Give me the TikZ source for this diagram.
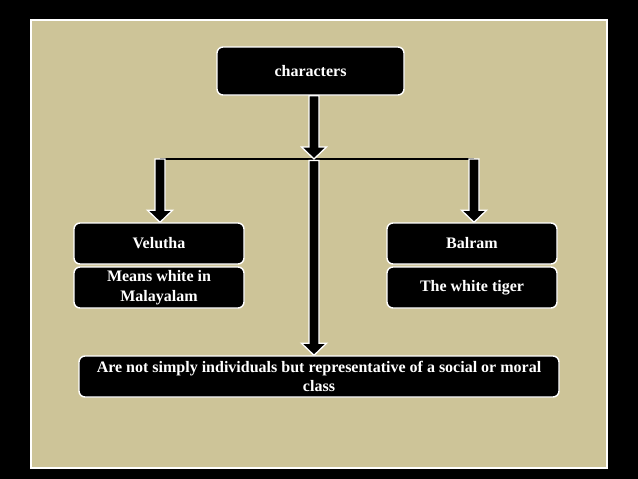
\documentclass[tikz,border=0pt]{standalone}
\usepackage{fontspec}
\setmainfont{Liberation Serif}
\usetikzlibrary{calc}
\definecolor{panel}{RGB}{205,196,152}
\tikzset{
  box/.style={draw=white, line width=1.4pt, fill=black, rounded corners=6pt, text=white,
    font=\bfseries\fontsize{16}{19.5}\selectfont, align=center, inner sep=0pt},
  arrowshape/.style={fill=black, draw=white, line width=1.3pt, line join=miter},
  hbar/.style={draw=black, line width=2.5pt}
}
\newcommand\blockarrow[2]{%
  \draw[arrowshape] let \p1=(#1), \p2=(#2) in
    (\x1-5pt,\y1) -- (\x1-5pt,\y2+12pt) -- (\x1-12.5pt,\y2+12pt) -- (\x1,\y2)
    -- (\x1+12.5pt,\y2+12pt) -- (\x1+5pt,\y2+12pt) -- (\x1+5pt,\y1) -- cycle;}
\begin{document}
\begin{tikzpicture}[x=1pt,y=-1pt]
\fill[black] (0,0) rectangle (638,479);
\useasboundingbox (0,0) rectangle (638,479);
\draw[white, line width=1.5pt, fill=panel] (31,20) rectangle (607,468);

\node[box, minimum width=187pt, minimum height=48pt] (chars) at (310.5,71) {characters};
\node[box, minimum width=170pt, minimum height=41pt] (vel) at (159,243.5) {Velutha};
\node[box, minimum width=170pt, minimum height=41pt] (means) at (159,287.5) {Means white in\\Malayalam};
\node[box, minimum width=170pt, minimum height=41pt] (bal) at (472,243.5) {Balram};
\node[box, minimum width=170pt, minimum height=41pt] (tiger) at (472,287.5) {The white tiger};
\node[box, minimum width=480pt, minimum height=41pt] (rep) at (319,376.5)
  {Are not simply individuals but representative of a social or moral\\class};

\coordinate (hl) at (314,159);
\coordinate (hL) at (160,159);
\coordinate (hR) at (474,159);
\coordinate (topstart) at (chars.south -| hl);

\draw[hbar] (hL) -- (hR);
\blockarrow{topstart}{hl}
\blockarrow{hL}{vel.north -| hL}
\blockarrow{hR}{bal.north -| hR}
\blockarrow{$(hl)+(0,1.5)$}{rep.north -| hl}
\end{tikzpicture}
\end{document}
